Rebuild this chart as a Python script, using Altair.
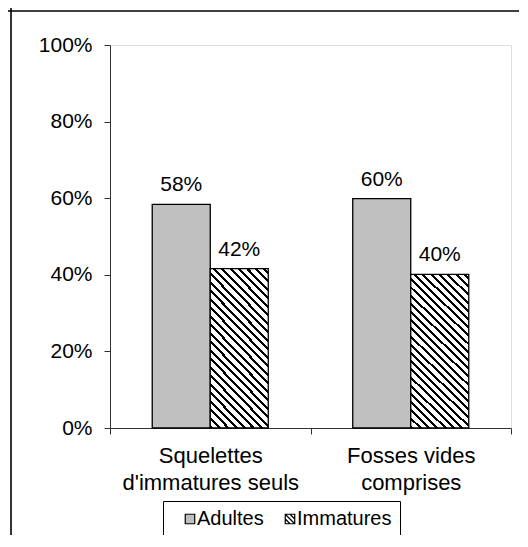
import altair as alt
import pandas as pd

# ---- data ----
categories = ["Squelettes\nd'immatures seuls", "Fosses vides\ncomprises"]
series = ["Adultes", "Immatures"]
adultes = [0.584, 0.599]
immatures = [0.416, 0.401]
y_ticks = [0, 0.2, 0.4, 0.6, 0.8, 1.0]

rows = []
for i, c in enumerate(categories):
    rows.append({"cat": c, "serie": series[0], "val": adultes[i]})
    rows.append({"cat": c, "serie": series[1], "val": immatures[i]})
df = pd.DataFrame(rows)

# ---- layout (svg must fit inside the 528x547 window minus the 8px body margin) ----
W, H = 401, 383
PAD = {"left": 102, "top": 37, "right": 8, "bottom": 107}
FONT = "Liberation Sans"
OUTER_PAD = 0.728

# ---- hatch fill as a hard-stop linear gradient (diagonal "\" stripes) ----
band = W / len(categories)
bar_w = band / (len(series) + 2 * OUTER_PAD)
bar_h = sum(immatures) / len(immatures) * H
t = (bar_w + bar_h) / (bar_w ** 2 + bar_h ** 2)
dx, dy = t * bar_w, -t * bar_h
L = (bar_w + bar_h) / 2 ** 0.5
period = 5.9 / L
duty = 0.36
stops = []
k = 0
while k * period < 1:
    a = round(k * period, 5)
    b = round(min(1, (k + duty) * period), 5)
    c = round(min(1, (k + 1) * period), 5)
    stops += [
        {"offset": a, "color": "black"},
        {"offset": b, "color": "black"},
        {"offset": b, "color": "white"},
        {"offset": c, "color": "white"},
    ]
    k += 1
hatch = {"gradient": "linear", "x1": 0, "y1": 1, "x2": round(dx, 5), "y2": round(1 + dy, 5), "stops": stops}

sq = "M-1,-1H1V1H-1Z"
hatched_sq = "M-1,-1H1V1H-1Z M-1,-1L1,1 M-1,0L0,1 M0,-1L1,0"

base = alt.Chart(df).encode(
    x=alt.X(
        "cat:N",
        sort=categories,
        scale=alt.Scale(paddingInner=0, paddingOuter=0),
        axis=alt.Axis(
            title=None, labelAngle=0, labelFontSize=22, labelLineHeight=27,
            labelPadding=11, tickSize=6, tickBand="extent", domainColor="#333333",
            tickColor="#333333", labelColor="black", labelLimit=400, grid=False,
            labelExpr="split(datum.label, '\\n')",
        ),
    ),
    xOffset=alt.XOffset("serie:N", sort=series, scale=alt.Scale(paddingInner=0, paddingOuter=OUTER_PAD)),
    y=alt.Y(
        "val:Q",
        scale=alt.Scale(domain=[0, 1]),
        axis=alt.Axis(
            title=None, values=y_ticks, format=".0%", labelFontSize=21, tickSize=6,
            labelPadding=12, grid=False, domainColor="#333333", tickColor="#333333",
            labelColor="black",
        ),
    ),
)

bars = base.mark_bar(stroke="black", strokeWidth=1.3).encode(
    fill=alt.condition(alt.datum.serie == "Immatures", alt.value(hatch), alt.value("#c0c0c0"))
)

labels = base.mark_text(fontSize=21, dy=-13, baseline="alphabetic", color="black").encode(
    text=alt.Text("val:Q", format=".0%")
)

leg = alt.Legend(
    title=None, orient="none", legendX=53, legendY=456, direction="horizontal",
    strokeColor="black", fillColor="white", padding=8, symbolOffset=9, columnPadding=7,
    labelFontSize=20, labelOffset={"expr": "-3"}, symbolSize=90, symbolStrokeWidth=1.2,
    symbolOpacity=1, labelColor="black",
)

pts = base.mark_point(filled=True, opacity=0, stroke="black", strokeWidth=1.2).encode(
    color=alt.Color("serie:N", sort=series, scale=alt.Scale(domain=series, range=["#c0c0c0", "white"]), legend=leg),
    shape=alt.Shape("serie:N", sort=series, scale=alt.Scale(domain=series, range=[sq, hatched_sq]), legend=leg),
)

one = pd.DataFrame({"k": [0]})
top_line = alt.Chart(one).mark_rule(color="black", strokeWidth=1.6).encode(
    x=alt.value(-PAD["left"]), x2=alt.value(W + PAD["right"]), y=alt.value(-34)
)
left_line = alt.Chart(one).mark_rule(color="black", strokeWidth=1.6).encode(
    x=alt.value(-99), y=alt.value(-PAD["top"]), y2=alt.value(H + PAD["bottom"])
)

chart = (
    alt.layer(bars, labels, pts, top_line, left_line)
    .properties(width=W, height=H, autosize=alt.AutoSizeParams(type="none"), padding=PAD)
    .configure_view(stroke="transparent")
    .configure(font=FONT)
)

chart.save("out.html", embed_options={"renderer": "svg", "actions": False})
